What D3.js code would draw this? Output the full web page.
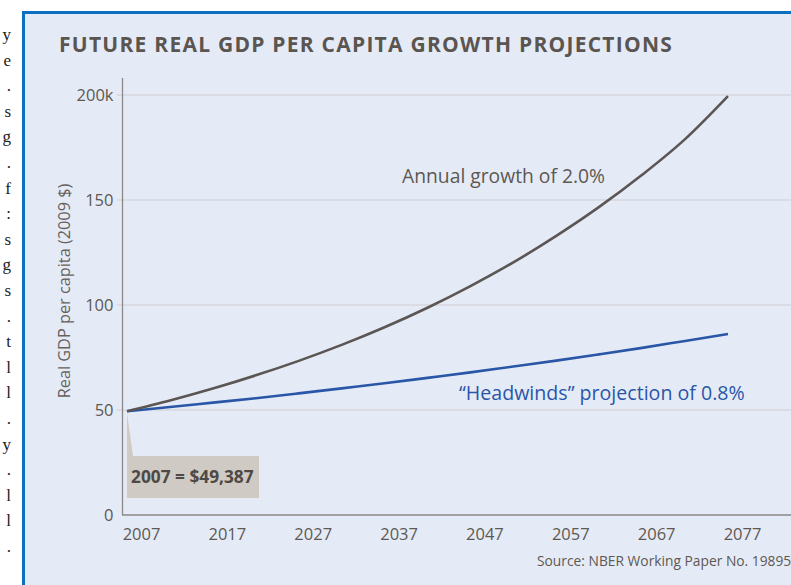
<!DOCTYPE html>
<html>
<head>
<meta charset="utf-8">
<script src="https://cdn.jsdelivr.net/npm/d3@7"></script>
<style>
  body { margin: 0; background: #fff; }
  svg { display: block; }
</style>
</head>
<body>
<svg id="chart"></svg>
<script>
// values (thousands of 2009 $)
const years = [2007, 2012, 2017, 2022, 2027, 2032, 2037, 2042, 2047, 2052, 2057, 2062, 2067, 2072, 2077];
const growth20 = [49.4, 54.5, 60.2, 66.5, 73.4, 81.0, 89.4, 98.7, 109.0, 120.3, 132.9, 146.7, 162.0, 179.0, 199.5];
const headwinds08 = [49.4, 51.4, 53.5, 55.6, 57.9, 60.3, 62.7, 65.3, 67.9, 70.7, 73.5, 76.5, 79.6, 82.9, 86.2];
const yTicks = [0, 50, 100, 150, 200];
const xTicks = [2007, 2017, 2027, 2037, 2047, 2057, 2067, 2077];
// tail ends of the text column cut off on the left
const sideChars = ["y", "e", ".", "s", "g", ".", "f", ":", "s", "g", "s", ".", "t", "l", "l", ".", "y", ".", "l", "l", "."];

const W = 791, H = 585;
const svg = d3.select("#chart").attr("width", W).attr("height", H);

svg.append("g").selectAll("text")
  .data(sideChars)
  .enter().append("text")
  .attr("x", 11)
  .attr("y", (d, i) => 40 + i * 25.6)
  .attr("text-anchor", "end")
  .attr("font-family", "Liberation Serif")
  .attr("font-size", 17)
  .attr("fill", "#222")
  .text(d => d);

svg.append("rect")
  .attr("x", 23.5).attr("y", 12.5)
  .attr("width", 820).attr("height", 620)
  .attr("fill", "#e5ebf6")
  .attr("stroke", "#0b70bf")
  .attr("stroke-width", 3);

const font = "'Open Sans', sans-serif";
const textCol = "#5d5853";

svg.append("text")
  .attr("x", 59).attr("y", 52)
  .attr("font-family", font)
  .attr("font-weight", 700)
  .attr("font-size", 21)
  .attr("letter-spacing", 1.25)
  .attr("fill", "#5a5550")
  .text("FUTURE REAL GDP PER CAPITA GROWTH PROJECTIONS");

const x = d3.scaleLinear().domain([2007, 2077]).range([127, 728]);
const y = d3.scaleLinear().domain([0, 200]).range([515, 95]);

// gridlines
svg.append("g").selectAll("line")
  .data(yTicks.filter(d => d > 0))
  .enter().append("line")
  .attr("x1", 117).attr("x2", W)
  .attr("y1", d => y(d)).attr("y2", d => y(d))
  .attr("stroke", "#cfccd0").attr("stroke-width", 1);

const yAxis = d3.axisLeft(y)
  .tickValues(yTicks)
  .tickSize(0)
  .tickPadding(9)
  .tickFormat(d => d === 200 ? "200k" : d);

const gy = svg.append("g")
  .attr("transform", "translate(122.5,0)")
  .call(yAxis);
gy.select(".domain").remove();
gy.selectAll("text")
  .attr("font-family", font).attr("font-size", 16.5).attr("fill", textCol);

svg.append("line")
  .attr("x1", 122.5).attr("x2", 122.5)
  .attr("y1", 78).attr("y2", 515)
  .attr("stroke", "#8c8787").attr("stroke-width", 1.3);

const xAxis = d3.axisBottom(x)
  .tickValues(xTicks)
  .tickSize(0)
  .tickPadding(13)
  .tickFormat(d3.format("d"));

const gx = svg.append("g")
  .attr("transform", "translate(0,515)")
  .call(xAxis);
gx.select(".domain").remove();
gx.selectAll("text")
  .attr("dx", 14)
  .attr("font-family", font).attr("font-size", 16.5).attr("fill", textCol);

svg.append("line")
  .attr("x1", 122).attr("x2", W)
  .attr("y1", 515).attr("y2", 515)
  .attr("stroke", "#8c8787").attr("stroke-width", 1.3);

svg.append("text")
  .attr("transform", "translate(70,291) rotate(-90)")
  .attr("text-anchor", "middle")
  .attr("font-family", font).attr("font-size", 16.3)
  .attr("fill", "#66615c")
  .text("Real GDP per capita (2009 $)");

// callout
const cx = x(years[0]), cy = y(growth20[0]);
svg.append("path")
  .attr("d", `M${cx},${cy + 2} L${cx},456 L${cx + 6},456 Z`)
  .attr("fill", "#cfcac4");
svg.append("rect")
  .attr("x", cx).attr("y", 456)
  .attr("width", 132).attr("height", 42)
  .attr("fill", "#cfcac4");
svg.append("text")
  .attr("x", cx + 4).attr("y", 483)
  .attr("font-family", font).attr("font-weight", 700).attr("font-size", 17.3)
  .attr("fill", "#4e4945")
  .text("2007 = $49,387");

const line = d3.line()
  .x((d, i) => x(years[i]))
  .y(d => y(d))
  .curve(d3.curveMonotoneX);

svg.append("path")
  .datum(headwinds08)
  .attr("d", line)
  .attr("fill", "none")
  .attr("stroke", "#2a56a8")
  .attr("stroke-width", 2.6);

svg.append("path")
  .datum(growth20)
  .attr("d", line)
  .attr("fill", "none")
  .attr("stroke", "#5b5653")
  .attr("stroke-width", 2.6);

svg.append("text")
  .attr("x", 402).attr("y", 183)
  .attr("font-family", font).attr("font-size", 19.3)
  .attr("fill", textCol)
  .text("Annual growth of 2.0%");

svg.append("text")
  .attr("x", 459).attr("y", 400)
  .attr("font-family", font).attr("font-size", 19.6)
  .attr("fill", "#2a56a8")
  .text("\u201CHeadwinds\u201D projection of 0.8%");

svg.append("text")
  .attr("x", 537).attr("y", 566)
  .attr("font-family", font).attr("font-size", 13.8)
  .attr("fill", textCol)
  .text("Source: NBER Working Paper No. 19895");
</script>
</body>
</html>
